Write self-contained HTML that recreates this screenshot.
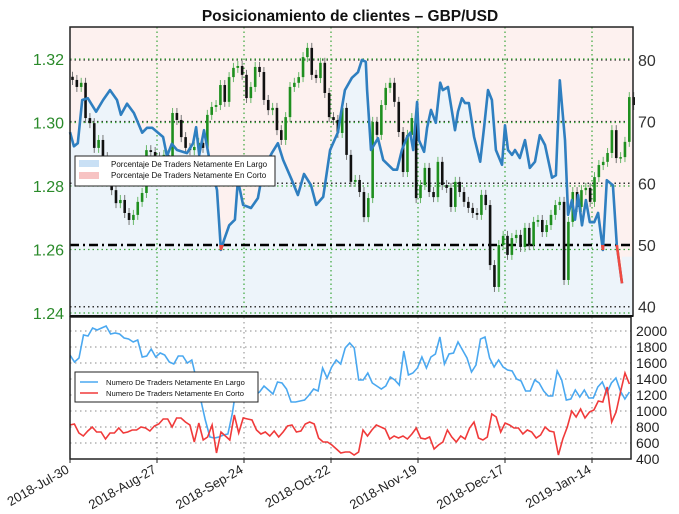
<!DOCTYPE html>
<html><head><meta charset="utf-8"><style>
body{margin:0;background:#fff;}
svg{display:block;font-family:"Liberation Sans",sans-serif;}
</style></head><body>
<svg id="chart" width="679" height="514" viewBox="0 0 679 514" xmlns="http://www.w3.org/2000/svg">
<defs>
<clipPath id="topclip"><rect x="70" y="27" width="563" height="289"/></clipPath>
<clipPath id="redclip"><rect x="70" y="245" width="563" height="71"/></clipPath>
<clipPath id="botclip"><rect x="70" y="317" width="561" height="142"/></clipPath>
</defs>
<text x="350" y="21" text-anchor="middle" font-size="15.5" font-weight="bold" fill="#111">Posicionamiento de clientes – GBP/USD</text>
<g id="topPanel"></g>
<g id="botPanel"></g>
<g id="xlab"></g>
</svg>
<script>
// ---- data ----
const dateLabels = ["2018-Jul-30","2018-Aug-27","2018-Sep-24","2018-Oct-22","2018-Nov-19","2018-Dec-17","2019-Jan-14"];
const priceTicks = [1.24,1.26,1.28,1.30,1.32];
const pctTicks = [40,50,60,70,80];
const countTicks = [400,600,800,1000,1200,1400,1600,1800,2000];
const closes = [1.3134,1.3112,1.3125,1.3014,1.2998,1.2920,1.2945,1.2891,1.2866,1.2787,1.2746,1.2756,1.2715,1.2693,1.2709,1.2750,1.2778,1.2913,1.2907,1.2891,1.2882,1.2898,1.2866,1.3030,1.3008,1.2954,1.2920,1.2913,1.2923,1.2936,1.2920,1.3024,1.3049,1.3055,1.3118,1.3065,1.3143,1.3172,1.3178,1.3150,1.3077,1.3112,1.3175,1.3159,1.3071,1.3039,1.3046,1.2976,1.2945,1.3017,1.3112,1.3125,1.3143,1.3206,1.3235,1.3150,1.3140,1.3188,1.3093,1.3017,1.3008,1.2967,1.3046,1.2898,1.2813,1.2819,1.2781,1.2702,1.2762,1.3002,1.2961,1.3055,1.3109,1.3125,1.3065,1.2970,1.2844,1.2961,1.3014,1.2762,1.2803,1.2857,1.2781,1.2765,1.2876,1.2803,1.2794,1.2734,1.2813,1.2781,1.2750,1.2731,1.2715,1.2709,1.2772,1.2740,1.2551,1.2482,1.2614,1.2643,1.2583,1.2636,1.2646,1.2608,1.2668,1.2614,1.2687,1.2693,1.2655,1.2677,1.2709,1.2740,1.2750,1.2504,1.2687,1.2781,1.2734,1.2787,1.2794,1.2750,1.2828,1.2866,1.2876,1.2904,1.2976,1.2888,1.2891,1.2939,1.3080,1.3055];
const sentDays = [0,0.9,1.8,2.8,4.1,6.0,7.6,9.2,10.8,11.7,13.1,14.7,16.6,17.7,18.9,21.4,22.3,23.4,24.6,26.9,28.3,29.0,29.7,30.8,32.2,33.8,34.7,35.4,36.6,37.9,38.6,39.8,41.6,43.2,44.4,46.4,47.8,49.0,51.0,52.4,53.8,55.4,56.6,58.2,59.8,61.6,62.3,63.2,64.8,66.2,67.1,68.0,68.3,69.2,70.8,72.0,74.3,75.2,76.3,77.5,78.2,78.9,79.8,80.2,81.4,82.1,83.0,84.1,85.1,85.7,86.9,88.5,89.2,90.1,90.8,91.7,92.9,94.3,95.2,96.1,97.0,97.9,99.3,100,100.7,101.6,102.3,103.4,104.6,105.7,106.9,108,109.2,110.8,111.7,112.6,113.8,114.5,115.4,116.1,116.8,117.7,118.6,119.5,120.5,121.4,122.5,123.4,124.8,125.7,126.9];
const sentLong = [68.3,66.0,66.5,73.5,73.8,71.6,73.5,75.1,73.5,71.1,72.9,71.4,68.2,69.0,69.0,67.5,64.4,66.4,65.4,64.9,66.5,69.1,64.6,68.6,63.3,58.9,49.2,50.8,53.2,54.1,60.5,56.5,56.0,57.6,62.2,64.9,66.5,63.8,60.5,58.1,61.5,59.7,56.5,57.8,65.4,68.3,71.4,75.1,77.1,78.0,80.0,79.7,75.1,65.4,67.3,63.8,62.2,62.2,65.4,67.5,68.2,65.4,73.2,67.0,65.1,69.0,71.9,69.8,76.3,75.1,75.6,68.6,71.6,73.8,73.0,73.0,67.5,63.5,69.1,75.1,73.5,65.4,63.0,69.4,65.4,64.6,65.4,64.1,67.0,62.5,63.5,67.8,66.2,60.9,61.3,76.7,67.0,54.9,57.3,54.1,58.1,53.2,57.3,53.7,53.7,55.2,49.2,60.5,59.7,50.0,43.8,48.1];
const longCount = [1700,1612,1662,1950,1938,2038,2012,2038,2062,1962,1975,1962,1912,1900,1862,1888,1675,1688,1775,1675,1725,1700,1612,1588,1688,1688,1600,1638,1400,1138,888,675,662,675,700,712,975,1350,1200,1200,1200,1200,1238,1312,1262,1212,1362,1350,1275,1112,1112,1125,1138,1200,1275,1250,1538,1412,1550,1638,1588,1788,1850,1788,1388,1388,1475,1350,1312,1275,1312,1425,1388,1325,1750,1450,1475,1538,1675,1538,1675,1712,1925,1588,1712,1725,1862,1762,1662,1488,1575,1900,1925,1662,1550,1638,1550,1512,1500,1400,1375,1250,1250,1388,1350,1250,1188,1188,1500,1388,1138,1150,1262,1175,1262,1162,1162,1300,1362,1225,1350,1412,1250,1150,1238];
const shortCount = [825,838,725,688,750,800,738,738,650,725,725,788,725,738,762,762,800,788,750,812,838,900,900,800,912,912,862,825,612,850,638,675,825,475,738,688,638,950,725,912,900,888,762,712,738,688,750,675,738,812,825,738,750,838,862,838,662,612,612,575,525,475,488,488,450,488,762,688,762,825,800,775,650,688,662,688,650,712,788,662,650,675,525,575,612,762,675,612,688,650,788,862,662,638,675,962,925,738,850,825,788,788,712,762,738,662,700,800,750,738,450,650,800,1000,925,1025,912,988,1012,1125,1112,1300,862,988,1238,1475,1338];

// ---- scales ----
const X0 = 70, DAY = 4.35, LASTDAY = 128.6;
const xDay = d => X0 + d * DAY;
const yPrice = p => 313 - (p - 1.24) * 3175;
const yPct = v => 245 - (v - 50) * 6.17;
const yCount = v => 459 - (v - 400) * 0.08;
const NS = "http://www.w3.org/2000/svg";
function mk(tag, attrs, parent){const e=document.createElementNS(NS,tag);for(const k in attrs)e.setAttribute(k,attrs[k]);parent.appendChild(e);return e;}

const topG = document.getElementById('topPanel');
const botG = document.getElementById('botPanel');
const xl = document.getElementById('xlab');

let bgRect = mk('rect',{x:70,y:27,width:563,height:289,fill:'#fdf1ef'},topG);



let pts = sentDays.map((d,i)=>xDay(d).toFixed(1)+','+yPct(sentLong[i]).toFixed(1));
const lastX = xDay(sentDays[sentDays.length-1]);
let area = mk('polygon',{points:xDay(sentDays[0])+',316 '+pts.join(' ')+' '+lastX+',316',fill:'#edf4fa','clip-path':'url(#topclip)'},topG);


let area2 = mk('rect',{x:lastX,y:yPct(sentLong[sentLong.length-1]),width:633-lastX,height:316-yPct(sentLong[sentLong.length-1]),fill:'#edf4fa'},topG);



pctTicks.forEach(v=>{ if(v===50) return;
  const g=mk('line',{x1:70,x2:633,y1:yPct(v),y2:yPct(v),stroke:'#333','stroke-width':1.5,'stroke-dasharray':'1.5,3'},topG);
  
  
});
priceTicks.forEach(v=>{
  const g=mk('line',{x1:70,x2:633,y1:yPrice(v),y2:yPrice(v),stroke:'#3aa63a','stroke-width':1.2,'stroke-dasharray':'1.5,3'},topG);
  
  
});
dateLabels.forEach((t,i)=>{ if(i===0) return;
  const g=mk('line',{x1:xDay(i*20),x2:xDay(i*20),y1:27,y2:316,stroke:'#3aa63a','stroke-width':1.2,'stroke-dasharray':'1.5,3'},topG);
  
  
});
let fifty = mk('line',{x1:70,x2:633,y1:yPct(50),y2:yPct(50),stroke:'#000','stroke-width':2.5,'stroke-dasharray':'9,4,2,4'},topG);



closes.forEach((c,i)=>{
  const o = i===0 ? c+0.001 : closes[i-1];
  const up = c>=o;
  const x = xDay(i)+2.5;
  const yt = yPrice(Math.max(o,c)), yb = yPrice(Math.min(o,c));
  const w = mk('line',{x1:x,x2:x,y1:yt-5,y2:yb+5,stroke:up?'#6ab86a':'#777','stroke-width':1},topG);
  
  
  const b = mk('rect',{x:x-1.3,y:yt,width:2.6,height:Math.max(1.5,yb-yt),fill:up?'#1f8f1f':'#111'},topG);
  
  
});

let sl = mk('polyline',{points:pts.join(' '),fill:'none',stroke:'#2f7fc0','stroke-width':2.6,'stroke-linejoin':'round'},topG);


let sr = mk('polyline',{points:pts.join(' '),fill:'none',stroke:'#f04a40','stroke-width':2.6,'clip-path':'url(#redclip)'},topG);



let f1 = mk('rect',{x:70,y:27,width:563,height:289,fill:'none',stroke:'#222','stroke-width':1.5},topG);



priceTicks.forEach(v=>{
  const t=mk('text',{x:64,y:yPrice(v)+6,'text-anchor':'end','font-size':16,fill:'#2a8a2a'},topG);
  t.textContent=v.toFixed(2);
  
  
});
pctTicks.forEach(v=>{
  const t=mk('text',{x:638,y:yPct(v)+6,'font-size':16,fill:'#333'},topG);
  t.textContent=v;
  
  
});

let lg = mk('g',{},topG);


mk('rect',{x:75,y:156,width:200,height:30,fill:'#fff',stroke:'#222','stroke-width':1},lg);
mk('rect',{x:79,y:160,width:20,height:7,fill:'#c9e0f5'},lg);
mk('rect',{x:79,y:172,width:20,height:7,fill:'#f7c3c3'},lg);
let lt1=mk('text',{x:111,y:167,'font-size':8,fill:'#111'},lg); lt1.textContent='Porcentaje De Traders Netamente En Largo';


let lt2=mk('text',{x:111,y:178,'font-size':8,fill:'#111'},lg); lt2.textContent='Porcentaje De Traders Netamente En Corto';



// ---- bottom panel ----
const xIdx = (i,n) => xDay(i * LASTDAY / (n-1));
countTicks.forEach(v=>{ if(v===400) return;
  const g=mk('line',{x1:70,x2:631,y1:yCount(v),y2:yCount(v),stroke:'#888','stroke-width':1,'stroke-dasharray':'1.5,3.5'},botG);
  
  
});
dateLabels.forEach((t,i)=>{ if(i===0) return;
  const g=mk('line',{x1:xDay(i*20),x2:xDay(i*20),y1:317,y2:459,stroke:'#888','stroke-width':1,'stroke-dasharray':'1.5,3.5'},botG);
  
  
});
let lp = longCount.map((v,i)=>xIdx(i,longCount.length).toFixed(1)+','+yCount(v).toFixed(1)).join(' ');
let ll = mk('polyline',{points:lp,fill:'none',stroke:'#4aa8f0','stroke-width':1.6,'clip-path':'url(#botclip)'},botG);


let sp = shortCount.map((v,i)=>xIdx(i,shortCount.length).toFixed(1)+','+yCount(v).toFixed(1)).join(' ');
let sll = mk('polyline',{points:sp,fill:'none',stroke:'#f03a3a','stroke-width':1.6,'clip-path':'url(#botclip)'},botG);


let f2 = mk('rect',{x:70,y:317,width:561,height:142,fill:'none',stroke:'#222','stroke-width':1.5},botG);


let sep = mk('line',{x1:70,x2:633,y1:316,y2:316,stroke:'#111','stroke-width':2},botG);


countTicks.forEach(v=>{
  const t=mk('text',{x:636,y:yCount(v)+5,'font-size':14,fill:'#222'},botG);
  t.textContent=v;
  
  
});
let lg2 = mk('g',{},botG);


mk('rect',{x:75,y:372,width:183,height:30,fill:'#fff',stroke:'#222','stroke-width':1},lg2);
mk('line',{x1:80,x2:98,y1:382,y2:382,stroke:'#4aa8f0','stroke-width':1.6},lg2);
mk('line',{x1:80,x2:98,y1:393,y2:393,stroke:'#f03a3a','stroke-width':1.6},lg2);
let bt1=mk('text',{x:106,y:385,'font-size':7.6,fill:'#111'},lg2); bt1.textContent='Numero De Traders Netamente En Largo';


let bt2=mk('text',{x:106,y:396,'font-size':7.6,fill:'#111'},lg2); bt2.textContent='Numero De Traders Netamente En Corto';



dateLabels.forEach((t,i)=>{
  const x = xDay(i*20);
  const tk = mk('line',{x1:x,x2:x,y1:459,y2:463,stroke:'#222','stroke-width':1},xl);
  
  
  const tx = mk('text',{x:x,y:472,'text-anchor':'end','font-size':13,fill:'#222',transform:'rotate(-30 '+x+' 472)'},xl);
  tx.textContent=t;
  
  
});
</script>
</body></html>
